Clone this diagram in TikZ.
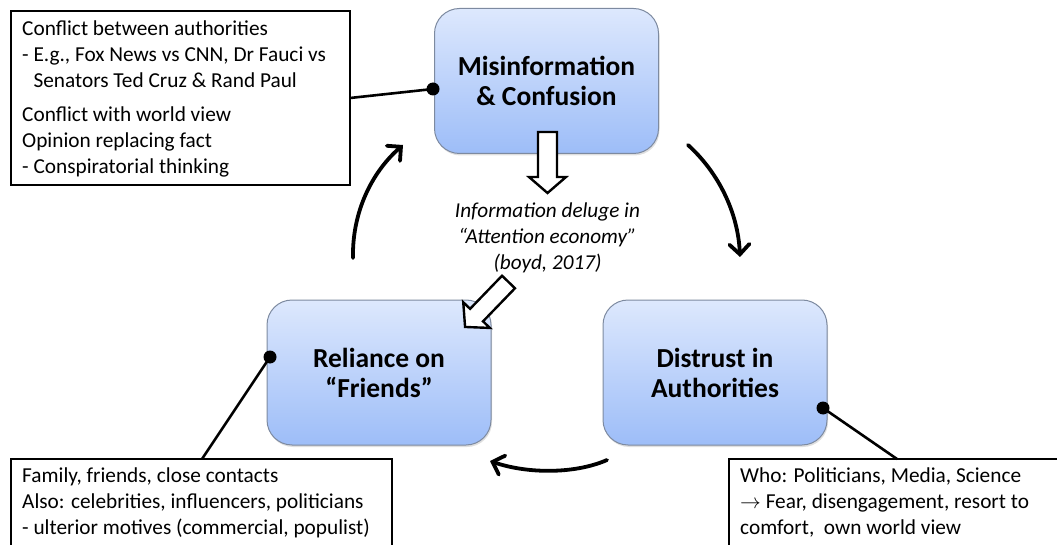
\documentclass[tikz,border=0pt]{standalone}
\usepackage{fontspec}
\setmainfont{Carlito}
\usetikzlibrary{arrows.meta,shadows}
\definecolor{boxtop}{RGB}{221,232,253}
\definecolor{boxbot}{RGB}{157,189,248}
\definecolor{boxline}{RGB}{125,138,160}
\begin{document}
\begin{tikzpicture}[x=1pt,y=-1pt,
  stage/.style={rounded corners=25pt, draw=boxline, line width=1pt,
    top color=boxtop, bottom color=boxbot,
    minimum width=224pt, minimum height=145pt, inner sep=0pt, align=center,
    font=\fontsize{27.5}{30}\selectfont\bfseries,
    drop shadow={shadow xshift=1pt, shadow yshift=-2pt, opacity=0.25}},
  note/.style={draw, line width=2.8pt, fill=white, inner sep=0pt},
  notetext/.style={anchor=north west, inner sep=0pt, align=left,
    font=\fontsize{21.3}{26}\selectfont},
  looparrow/.style={line width=3.8pt, line cap=round,
    -{Straight Barb[length=10pt,width=20pt,line cap=round]}},
  link/.style={line width=2.6pt},
  dot/.style={circle, fill=black, inner sep=0pt, minimum size=13pt},
  block/.style={draw, line width=2.4pt, fill=white, line join=miter}
]
\useasboundingbox (0,0) rectangle (1057,545);
\clip (0,0) rectangle (1057,545);

% note boxes
\node[note, minimum width=339pt, minimum height=174pt] (tl) at (180.5,98) {};
\node[note, minimum width=381pt, minimum height=111pt] (bl) at (201.5,514.5) {};
\node[note, minimum width=341pt, minimum height=111pt] (br) at (899.5,514.5) {};

\node[notetext] (tltext) at (22,21) {Conflict between authorities\\
- E.g., Fox News vs CNN, Dr Fauci vs\\
\hphantom{-}\ Senators Ted Cruz \& Rand Paul\\[8pt]
Conflict with world view\\
Opinion replacing fact\\
- Conspiratorial thinking};
\node[notetext] (bltext) at (22,468) {Family, friends, close contacts\\
Also: celebrities, influencers, politicians\\
- ulterior motives (commercial, populist)};
\node[notetext] (brtext) at (740,468) {Who: Politicians, Media, Science\\
$\rightarrow$ Fear, disengagement, resort to\\
comfort,\ \ own world view};

% stage boxes
\node[stage] (mis) at (546.5,81) {Misinformation\\\& Confusion};
\node[stage] (rel) at (379,372.5) {Reliance on\\“Friends”};
\node[stage] (dis) at (715,372.5) {Distrust in\\Authorities};

% links from notes to stages
\coordinate (c1) at (350,98);
\coordinate (p1) at (433,89);
\coordinate (c2) at (202,459);
\coordinate (p2) at (270,357);
\coordinate (c3) at (897,459);
\coordinate (p3) at (823,408);
\draw[link] (c1) -- (p1);
\draw[link] (c2) -- (p2);
\draw[link] (c3) -- (p3);
\node[dot] (d1) at (p1) {};
\node[dot] (d2) at (p2) {};
\node[dot] (d3) at (p3) {};

% cycle arrows
\coordinate (a1s) at (353,258);
\coordinate (a1e) at (403,145);
\coordinate (a2s) at (688,145);
\coordinate (a2e) at (740,257);
\coordinate (a3s) at (607,460);
\coordinate (a3e) at (490,461);
\draw[looparrow] (a1s) .. controls (352,212) and (372,172) .. (a1e);
\draw[looparrow] (a2s) .. controls (718,172) and (738,212) .. (a2e);
\draw[looparrow] (a3s) .. controls (575,474) and (528,474) .. (a3e);

% hollow block arrows
\draw[block] (538,132) -- (557,132) -- (557,177) -- (566,177) -- (547.5,193)
  -- (529,177) -- (538,177) -- cycle;
\begin{scope}[shift={(508.5,282)}, rotate=-44]
\draw[block] (-9,0) -- (9,0) -- (9,46) -- (18.5,46) -- (0,62.5)
  -- (-18.5,46) -- (-9,46) -- cycle;
\end{scope}

% centre text
\node[align=center, inner sep=0pt, font=\fontsize{21.2}{26}\selectfont\itshape]
  (deluge) at (547.5,238) {Information deluge in\\“Attention economy”\\(boyd, 2017)};
\end{tikzpicture}
\end{document}
